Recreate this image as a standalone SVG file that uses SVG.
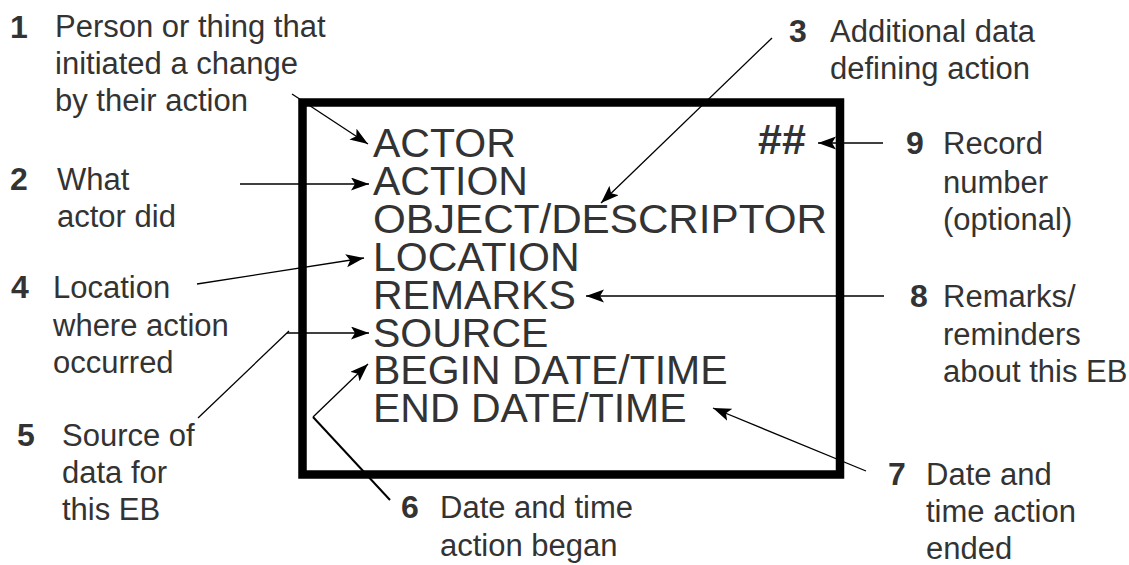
<svg xmlns="http://www.w3.org/2000/svg" width="1129" height="565" viewBox="0 0 1129 565">
<style>
.box{fill:none;stroke:#000;stroke-width:8.5;stroke-linejoin:miter}
.big{font-family:"Liberation Sans",Arial,sans-serif;font-size:41px;fill:#333}
.hash{font-family:"Liberation Sans",Arial,sans-serif;font-size:43px;font-weight:bold;fill:#333}
.num{font-family:"Liberation Sans",Arial,sans-serif;font-size:32px;font-weight:bold;fill:#333}
.lbl{font-family:"Liberation Sans",Arial,sans-serif;font-size:31px;fill:#333}
.ln{fill:none;stroke:#000;stroke-width:1.3}
</style>
<defs>
<marker id="ah" markerUnits="userSpaceOnUse" markerWidth="20" markerHeight="14" refX="18" refY="6.5" orient="auto" viewBox="0 0 20 14">
<path d="M0,0 L18,6.5 L0,13 L4,6.5 Z" fill="#000"/>
</marker>
</defs>
<rect fill="#fff" x="0" y="0" width="1129" height="565"/>
<g id="record">
<rect class="box" x="302.5" y="102.5" width="537.5" height="372"/>
<text class="big" x="373" y="157">ACTOR</text>
<text class="big" x="373" y="195">ACTION</text>
<text class="big" x="373" y="233" textLength="454" lengthAdjust="spacingAndGlyphs">OBJECT/DESCRIPTOR</text>
<text class="big" x="373" y="271">LOCATION</text>
<text class="big" x="373" y="309">REMARKS</text>
<text class="big" x="373" y="347">SOURCE</text>
<text class="big" x="373" y="384">BEGIN DATE/TIME</text>
<text class="big" x="373" y="422">END DATE/TIME</text>
<text class="hash" x="758" y="154">##</text>
</g>
<g id="label1">
<text class="num" x="10" y="38">1</text>
<text class="lbl" x="55" y="37">Person or thing that</text>
<text class="lbl" x="55" y="74">initiated a change</text>
<text class="lbl" x="55" y="111">by their action</text>
</g>
<g id="label2">
<text class="num" x="10" y="190">2</text>
<text class="lbl" x="57" y="190">What</text>
<text class="lbl" x="57" y="227">actor did</text>
</g>
<g id="label3">
<text class="num" x="789" y="42">3</text>
<text class="lbl" x="830" y="42">Additional data</text>
<text class="lbl" x="830" y="79">defining action</text>
</g>
<g id="label4">
<text class="num" x="11" y="298">4</text>
<text class="lbl" x="53" y="298">Location</text>
<text class="lbl" x="53" y="336">where action</text>
<text class="lbl" x="53" y="373">occurred</text>
</g>
<g id="label5">
<text class="num" x="17" y="446">5</text>
<text class="lbl" x="62" y="446">Source of</text>
<text class="lbl" x="62" y="483">data for</text>
<text class="lbl" x="62" y="520">this EB</text>
</g>
<g id="label6">
<text class="num" x="401" y="518">6</text>
<text class="lbl" x="440" y="518">Date and time</text>
<text class="lbl" x="440" y="556">action began</text>
</g>
<g id="label7">
<text class="num" x="888" y="485">7</text>
<text class="lbl" x="926" y="485">Date and</text>
<text class="lbl" x="926" y="522">time action</text>
<text class="lbl" x="926" y="559">ended</text>
</g>
<g id="label8">
<text class="num" x="910" y="307">8</text>
<text class="lbl" x="943" y="307">Remarks/</text>
<text class="lbl" x="943" y="345">reminders</text>
<text class="lbl" x="943" y="382">about this EB</text>
</g>
<g id="label9">
<text class="num" x="906" y="154">9</text>
<text class="lbl" x="943" y="154">Record</text>
<text class="lbl" x="943" y="193">number</text>
<text class="lbl" x="943" y="230">(optional)</text>
</g>
<g id="connectors">
<line class="ln" x1="292" y1="94" x2="368" y2="144" marker-end="url(#ah)"/>
<line class="ln" x1="240" y1="184" x2="369" y2="184" marker-end="url(#ah)"/>
<line class="ln" x1="772" y1="38" x2="601" y2="203" marker-end="url(#ah)"/>
<line class="ln" x1="197" y1="284" x2="364" y2="258" marker-end="url(#ah)"/>
<line class="ln" x1="198" y1="418" x2="289" y2="331"/>
<line class="ln" x1="287" y1="333" x2="369" y2="333" marker-end="url(#ah)"/>
<line class="ln" x1="313" y1="417" x2="368" y2="364" marker-end="url(#ah)"/>
<line class="ln" style="stroke-width:2" x1="390" y1="500" x2="313" y2="417"/>
<line class="ln" x1="866" y1="471" x2="713" y2="408" marker-end="url(#ah)"/>
<line class="ln" x1="884" y1="296" x2="586" y2="296" marker-end="url(#ah)"/>
<line class="ln" x1="883" y1="143" x2="818" y2="143" marker-end="url(#ah)"/>
</g>
</svg>
